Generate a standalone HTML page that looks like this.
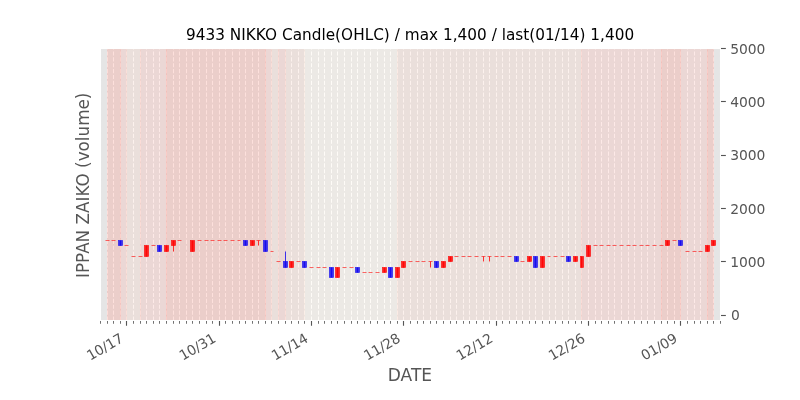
<!DOCTYPE html>
<html lang="en"><head><meta charset="utf-8"><title>9433 NIKKO Candle(OHLC)</title>
<style>
html,body{margin:0;padding:0;background:#fff;}
body{width:800px;height:400px;overflow:hidden;}
svg text{font-family:"DejaVu Sans","Liberation Sans",sans-serif;}
</style></head><body>
<svg width="800" height="400" viewBox="0 0 800 400" style="display:block">
<rect x="0" y="0" width="800" height="400" fill="#ffffff"/>
<rect x="100" y="48" width="620" height="272" fill="#e5e5e5"/>
<defs><clipPath id="ax"><rect x="100" y="48" width="620" height="272"/></clipPath></defs>
<g clip-path="url(#ax)">
<path d="M100.5 320.55V47M107.5 320.55V47M113.5 320.55V47M120.5 320.55V47M126.5 320.55V47M133.5 320.55V47M140.5 320.55V47M146.5 320.55V47M153.5 320.55V47M159.5 320.55V47M166.5 320.55V47M173.5 320.55V47M179.5 320.55V47M186.5 320.55V47M192.5 320.55V47M199.5 320.55V47M206.5 320.55V47M212.5 320.55V47M219.5 320.55V47M225.5 320.55V47M232.5 320.55V47M239.5 320.55V47M245.5 320.55V47M252.5 320.55V47M258.5 320.55V47M265.5 320.55V47M271.5 320.55V47M278.5 320.55V47M285.5 320.55V47M291.5 320.55V47M298.5 320.55V47M304.5 320.55V47M311.5 320.55V47M318.5 320.55V47M324.5 320.55V47M331.5 320.55V47M337.5 320.55V47M344.5 320.55V47M351.5 320.55V47M357.5 320.55V47M364.5 320.55V47M370.5 320.55V47M377.5 320.55V47M384.5 320.55V47M390.5 320.55V47M397.5 320.55V47M403.5 320.55V47M410.5 320.55V47M417.5 320.55V47M423.5 320.55V47M430.5 320.55V47M436.5 320.55V47M443.5 320.55V47M450.5 320.55V47M456.5 320.55V47M463.5 320.55V47M469.5 320.55V47M476.5 320.55V47M483.5 320.55V47M489.5 320.55V47M496.5 320.55V47M502.5 320.55V47M509.5 320.55V47M516.5 320.55V47M522.5 320.55V47M529.5 320.55V47M535.5 320.55V47M542.5 320.55V47M549.5 320.55V47M555.5 320.55V47M562.5 320.55V47M568.5 320.55V47M575.5 320.55V47M581.5 320.55V47M588.5 320.55V47M595.5 320.55V47M601.5 320.55V47M608.5 320.55V47M614.5 320.55V47M621.5 320.55V47M628.5 320.55V47M634.5 320.55V47M641.5 320.55V47M647.5 320.55V47M654.5 320.55V47M661.5 320.55V47M667.5 320.55V47M674.5 320.55V47M680.5 320.55V47M687.5 320.55V47M694.5 320.55V47M700.5 320.55V47M707.5 320.55V47M713.5 320.55V47M720.5 320.55V47" fill="none" stroke="#ffffff" stroke-width="1.11" stroke-dasharray="4.11 1.78"/>
<rect x="107.5" y="46" width="13" height="276" fill="#f9988b" fill-opacity="0.3" stroke="#f9988b" stroke-opacity="0.3" stroke-width="0.69"/>
<rect x="120.5" y="46" width="6" height="276" fill="#f9b6b0" fill-opacity="0.3" stroke="#f9b6b0" stroke-opacity="0.3" stroke-width="0.69"/>
<rect x="126.5" y="46" width="14" height="276" fill="#f6d1c4" fill-opacity="0.3" stroke="#f6d1c4" stroke-opacity="0.3" stroke-width="0.69"/>
<rect x="140.5" y="46" width="26" height="276" fill="#f9b6b0" fill-opacity="0.3" stroke="#f9b6b0" stroke-opacity="0.3" stroke-width="0.69"/>
<rect x="166.5" y="46" width="99" height="276" fill="#f9988b" fill-opacity="0.3" stroke="#f9988b" stroke-opacity="0.3" stroke-width="0.69"/>
<rect x="265.5" y="46" width="6" height="276" fill="#f9b6b0" fill-opacity="0.3" stroke="#f9b6b0" stroke-opacity="0.3" stroke-width="0.69"/>
<rect x="271.5" y="46" width="7" height="276" fill="#f6d1c4" fill-opacity="0.3" stroke="#f6d1c4" stroke-opacity="0.3" stroke-width="0.69"/>
<rect x="278.5" y="46" width="7" height="276" fill="#f9b6b0" fill-opacity="0.3" stroke="#f9b6b0" stroke-opacity="0.3" stroke-width="0.69"/>
<rect x="285.5" y="46" width="19" height="276" fill="#f6d1c4" fill-opacity="0.3" stroke="#f6d1c4" stroke-opacity="0.3" stroke-width="0.69"/>
<rect x="304.5" y="46" width="93" height="276" fill="#fcf2e5" fill-opacity="0.3" stroke="#fcf2e5" stroke-opacity="0.3" stroke-width="0.69"/>
<rect x="397.5" y="46" width="184" height="276" fill="#f6d1c4" fill-opacity="0.3" stroke="#f6d1c4" stroke-opacity="0.3" stroke-width="0.69"/>
<rect x="581.5" y="46" width="80" height="276" fill="#f9b6b0" fill-opacity="0.3" stroke="#f9b6b0" stroke-opacity="0.3" stroke-width="0.69"/>
<rect x="661.5" y="46" width="19" height="276" fill="#f9988b" fill-opacity="0.3" stroke="#f9988b" stroke-opacity="0.3" stroke-width="0.69"/>
<rect x="680.5" y="46" width="27" height="276" fill="#f9b6b0" fill-opacity="0.3" stroke="#f9b6b0" stroke-opacity="0.3" stroke-width="0.69"/>
<rect x="707.5" y="46" width="6" height="276" fill="#f9988b" fill-opacity="0.3" stroke="#f9988b" stroke-opacity="0.3" stroke-width="0.69"/>
<path d="M105.5 240.5H109.5" stroke="#ff0000" stroke-width="0.69" stroke-opacity="0.85" fill="none"/>
<path d="M111.5 240.5H115.5" stroke="#ff0000" stroke-width="0.69" stroke-opacity="0.85" fill="none"/>
<rect x="118.5" y="240.5" width="4" height="5" fill="#0c02f0" fill-opacity="0.8" stroke="#0c02f0" stroke-opacity="0.8" stroke-width="0.69"/>
<path d="M120.5 245.5V240.5" stroke="#0c02f0" stroke-width="0.8" fill="none"/>
<path d="M124.5 245.5H128.5" stroke="#ff0000" stroke-width="0.69" stroke-opacity="0.85" fill="none"/>
<path d="M131.5 256.5H135.5" stroke="#ff0000" stroke-width="0.69" stroke-opacity="0.85" fill="none"/>
<path d="M138.5 256.5H142.5" stroke="#ff0000" stroke-width="0.69" stroke-opacity="0.85" fill="none"/>
<rect x="144.5" y="245.5" width="4" height="11" fill="#ff0000" fill-opacity="0.85" stroke="#ff0000" stroke-opacity="0.85" stroke-width="0.69"/>
<path d="M146.5 256.5V245.5" stroke="#ff0000" stroke-width="0.8" fill="none"/>
<path d="M151.5 245.5H155.5" stroke="#ff0000" stroke-width="0.69" stroke-opacity="0.85" fill="none"/>
<rect x="157.5" y="245.5" width="4" height="6" fill="#0c02f0" fill-opacity="0.8" stroke="#0c02f0" stroke-opacity="0.8" stroke-width="0.69"/>
<path d="M159.5 251.5V245.5" stroke="#0c02f0" stroke-width="0.8" fill="none"/>
<rect x="164.5" y="245.5" width="4" height="6" fill="#ff0000" fill-opacity="0.85" stroke="#ff0000" stroke-opacity="0.85" stroke-width="0.69"/>
<path d="M166.5 251.5V245.5" stroke="#ff0000" stroke-width="0.8" fill="none"/>
<rect x="171.5" y="240.5" width="4" height="5" fill="#ff0000" fill-opacity="0.85" stroke="#ff0000" stroke-opacity="0.85" stroke-width="0.69"/>
<path d="M173.5 251.5V240.5" stroke="#ff0000" stroke-width="0.8" fill="none"/>
<path d="M177.5 240.5H181.5" stroke="#ff0000" stroke-width="0.69" stroke-opacity="0.85" fill="none"/>
<rect x="190.5" y="240.5" width="4" height="11" fill="#ff0000" fill-opacity="0.85" stroke="#ff0000" stroke-opacity="0.85" stroke-width="0.69"/>
<path d="M192.5 251.5V240.5" stroke="#ff0000" stroke-width="0.8" fill="none"/>
<path d="M197.5 240.5H201.5" stroke="#ff0000" stroke-width="0.69" stroke-opacity="0.85" fill="none"/>
<path d="M204.5 240.5H208.5" stroke="#ff0000" stroke-width="0.69" stroke-opacity="0.85" fill="none"/>
<path d="M210.5 240.5H214.5" stroke="#ff0000" stroke-width="0.69" stroke-opacity="0.85" fill="none"/>
<path d="M217.5 240.5H221.5" stroke="#ff0000" stroke-width="0.69" stroke-opacity="0.85" fill="none"/>
<path d="M223.5 240.5H227.5" stroke="#ff0000" stroke-width="0.69" stroke-opacity="0.85" fill="none"/>
<path d="M230.5 240.5H234.5" stroke="#ff0000" stroke-width="0.69" stroke-opacity="0.85" fill="none"/>
<path d="M237.5 240.5H240.5" stroke="#ff0000" stroke-width="0.69" stroke-opacity="0.85" fill="none"/>
<rect x="243.5" y="240.5" width="4" height="5" fill="#0c02f0" fill-opacity="0.8" stroke="#0c02f0" stroke-opacity="0.8" stroke-width="0.69"/>
<path d="M245.5 245.5V240.5" stroke="#0c02f0" stroke-width="0.8" fill="none"/>
<rect x="250.5" y="240.5" width="4" height="5" fill="#ff0000" fill-opacity="0.85" stroke="#ff0000" stroke-opacity="0.85" stroke-width="0.69"/>
<path d="M252.5 245.5V240.5" stroke="#ff0000" stroke-width="0.8" fill="none"/>
<path d="M256.5 240.5H260.5" stroke="#ff0000" stroke-width="0.69" stroke-opacity="0.85" fill="none"/>
<path d="M258.5 245.5V240.5" stroke="#ff0000" stroke-width="0.8" fill="none"/>
<rect x="263.5" y="240.5" width="4" height="11" fill="#0c02f0" fill-opacity="0.8" stroke="#0c02f0" stroke-opacity="0.8" stroke-width="0.69"/>
<path d="M265.5 251.5V240.5" stroke="#0c02f0" stroke-width="0.8" fill="none"/>
<path d="M270.5 251.5H273.5" stroke="#ff0000" stroke-width="0.69" stroke-opacity="0.85" fill="none"/>
<path d="M276.5 261.5H280.5" stroke="#ff0000" stroke-width="0.69" stroke-opacity="0.85" fill="none"/>
<rect x="283.5" y="261.5" width="4" height="6" fill="#0c02f0" fill-opacity="0.8" stroke="#0c02f0" stroke-opacity="0.8" stroke-width="0.69"/>
<path d="M285.5 267.5V251.5" stroke="#0c02f0" stroke-width="0.8" fill="none"/>
<rect x="289.5" y="261.5" width="4" height="6" fill="#ff0000" fill-opacity="0.85" stroke="#ff0000" stroke-opacity="0.85" stroke-width="0.69"/>
<path d="M291.5 267.5V261.5" stroke="#ff0000" stroke-width="0.8" fill="none"/>
<path d="M296.5 261.5H300.5" stroke="#ff0000" stroke-width="0.69" stroke-opacity="0.85" fill="none"/>
<rect x="302.5" y="261.5" width="4" height="6" fill="#0c02f0" fill-opacity="0.8" stroke="#0c02f0" stroke-opacity="0.8" stroke-width="0.69"/>
<path d="M304.5 267.5V261.5" stroke="#0c02f0" stroke-width="0.8" fill="none"/>
<path d="M309.5 267.5H313.5" stroke="#ff0000" stroke-width="0.69" stroke-opacity="0.85" fill="none"/>
<path d="M316.5 267.5H320.5" stroke="#ff0000" stroke-width="0.69" stroke-opacity="0.85" fill="none"/>
<path d="M322.5 267.5H326.5" stroke="#ff0000" stroke-width="0.69" stroke-opacity="0.85" fill="none"/>
<rect x="329.5" y="267.5" width="4" height="10" fill="#0c02f0" fill-opacity="0.8" stroke="#0c02f0" stroke-opacity="0.8" stroke-width="0.69"/>
<path d="M331.5 277.5V267.5" stroke="#0c02f0" stroke-width="0.8" fill="none"/>
<rect x="335.5" y="267.5" width="4" height="10" fill="#ff0000" fill-opacity="0.85" stroke="#ff0000" stroke-opacity="0.85" stroke-width="0.69"/>
<path d="M337.5 277.5V267.5" stroke="#ff0000" stroke-width="0.8" fill="none"/>
<path d="M342.5 267.5H346.5" stroke="#ff0000" stroke-width="0.69" stroke-opacity="0.85" fill="none"/>
<path d="M349.5 267.5H353.5" stroke="#ff0000" stroke-width="0.69" stroke-opacity="0.85" fill="none"/>
<rect x="355.5" y="267.5" width="4" height="5" fill="#0c02f0" fill-opacity="0.8" stroke="#0c02f0" stroke-opacity="0.8" stroke-width="0.69"/>
<path d="M357.5 272.5V267.5" stroke="#0c02f0" stroke-width="0.8" fill="none"/>
<path d="M362.5 272.5H366.5" stroke="#ff0000" stroke-width="0.69" stroke-opacity="0.85" fill="none"/>
<path d="M368.5 272.5H372.5" stroke="#ff0000" stroke-width="0.69" stroke-opacity="0.85" fill="none"/>
<path d="M375.5 272.5H379.5" stroke="#ff0000" stroke-width="0.69" stroke-opacity="0.85" fill="none"/>
<rect x="382.5" y="267.5" width="4" height="5" fill="#ff0000" fill-opacity="0.85" stroke="#ff0000" stroke-opacity="0.85" stroke-width="0.69"/>
<path d="M384.5 272.5V267.5" stroke="#ff0000" stroke-width="0.8" fill="none"/>
<rect x="388.5" y="267.5" width="4" height="10" fill="#0c02f0" fill-opacity="0.8" stroke="#0c02f0" stroke-opacity="0.8" stroke-width="0.69"/>
<path d="M390.5 277.5V267.5" stroke="#0c02f0" stroke-width="0.8" fill="none"/>
<rect x="395.5" y="267.5" width="4" height="10" fill="#ff0000" fill-opacity="0.85" stroke="#ff0000" stroke-opacity="0.85" stroke-width="0.69"/>
<path d="M397.5 277.5V267.5" stroke="#ff0000" stroke-width="0.8" fill="none"/>
<rect x="401.5" y="261.5" width="4" height="6" fill="#ff0000" fill-opacity="0.85" stroke="#ff0000" stroke-opacity="0.85" stroke-width="0.69"/>
<path d="M403.5 267.5V261.5" stroke="#ff0000" stroke-width="0.8" fill="none"/>
<path d="M408.5 261.5H412.5" stroke="#ff0000" stroke-width="0.69" stroke-opacity="0.85" fill="none"/>
<path d="M415.5 261.5H419.5" stroke="#ff0000" stroke-width="0.69" stroke-opacity="0.85" fill="none"/>
<path d="M421.5 261.5H425.5" stroke="#ff0000" stroke-width="0.69" stroke-opacity="0.85" fill="none"/>
<path d="M428.5 261.5H432.5" stroke="#ff0000" stroke-width="0.69" stroke-opacity="0.85" fill="none"/>
<path d="M430.5 267.5V261.5" stroke="#ff0000" stroke-width="0.8" fill="none"/>
<rect x="434.5" y="261.5" width="4" height="6" fill="#0c02f0" fill-opacity="0.8" stroke="#0c02f0" stroke-opacity="0.8" stroke-width="0.69"/>
<path d="M436.5 267.5V261.5" stroke="#0c02f0" stroke-width="0.8" fill="none"/>
<rect x="441.5" y="261.5" width="4" height="6" fill="#ff0000" fill-opacity="0.85" stroke="#ff0000" stroke-opacity="0.85" stroke-width="0.69"/>
<path d="M443.5 267.5V261.5" stroke="#ff0000" stroke-width="0.8" fill="none"/>
<rect x="448.5" y="256.5" width="4" height="5" fill="#ff0000" fill-opacity="0.85" stroke="#ff0000" stroke-opacity="0.85" stroke-width="0.69"/>
<path d="M450.5 261.5V256.5" stroke="#ff0000" stroke-width="0.8" fill="none"/>
<path d="M454.5 256.5H458.5" stroke="#ff0000" stroke-width="0.69" stroke-opacity="0.85" fill="none"/>
<path d="M461.5 256.5H465.5" stroke="#ff0000" stroke-width="0.69" stroke-opacity="0.85" fill="none"/>
<path d="M467.5 256.5H471.5" stroke="#ff0000" stroke-width="0.69" stroke-opacity="0.85" fill="none"/>
<path d="M474.5 256.5H478.5" stroke="#ff0000" stroke-width="0.69" stroke-opacity="0.85" fill="none"/>
<path d="M481.5 256.5H485.5" stroke="#ff0000" stroke-width="0.69" stroke-opacity="0.85" fill="none"/>
<path d="M483.5 261.5V256.5" stroke="#ff0000" stroke-width="0.8" fill="none"/>
<path d="M487.5 256.5H491.5" stroke="#ff0000" stroke-width="0.69" stroke-opacity="0.85" fill="none"/>
<path d="M489.5 261.5V256.5" stroke="#ff0000" stroke-width="0.8" fill="none"/>
<path d="M494.5 256.5H498.5" stroke="#ff0000" stroke-width="0.69" stroke-opacity="0.85" fill="none"/>
<path d="M500.5 256.5H504.5" stroke="#ff0000" stroke-width="0.69" stroke-opacity="0.85" fill="none"/>
<path d="M507.5 256.5H511.5" stroke="#ff0000" stroke-width="0.69" stroke-opacity="0.85" fill="none"/>
<rect x="514.5" y="256.5" width="4" height="5" fill="#0c02f0" fill-opacity="0.8" stroke="#0c02f0" stroke-opacity="0.8" stroke-width="0.69"/>
<path d="M516.5 261.5V256.5" stroke="#0c02f0" stroke-width="0.8" fill="none"/>
<path d="M520.5 261.5H524.5" stroke="#ff0000" stroke-width="0.69" stroke-opacity="0.85" fill="none"/>
<rect x="527.5" y="256.5" width="4" height="5" fill="#ff0000" fill-opacity="0.85" stroke="#ff0000" stroke-opacity="0.85" stroke-width="0.69"/>
<path d="M529.5 261.5V256.5" stroke="#ff0000" stroke-width="0.8" fill="none"/>
<rect x="533.5" y="256.5" width="4" height="11" fill="#0c02f0" fill-opacity="0.8" stroke="#0c02f0" stroke-opacity="0.8" stroke-width="0.69"/>
<path d="M535.5 267.5V256.5" stroke="#0c02f0" stroke-width="0.8" fill="none"/>
<rect x="540.5" y="256.5" width="4" height="11" fill="#ff0000" fill-opacity="0.85" stroke="#ff0000" stroke-opacity="0.85" stroke-width="0.69"/>
<path d="M542.5 267.5V256.5" stroke="#ff0000" stroke-width="0.8" fill="none"/>
<path d="M547.5 256.5H550.5" stroke="#ff0000" stroke-width="0.69" stroke-opacity="0.85" fill="none"/>
<path d="M553.5 256.5H557.5" stroke="#ff0000" stroke-width="0.69" stroke-opacity="0.85" fill="none"/>
<path d="M560.5 256.5H564.5" stroke="#ff0000" stroke-width="0.69" stroke-opacity="0.85" fill="none"/>
<rect x="566.5" y="256.5" width="4" height="5" fill="#0c02f0" fill-opacity="0.8" stroke="#0c02f0" stroke-opacity="0.8" stroke-width="0.69"/>
<path d="M568.5 261.5V256.5" stroke="#0c02f0" stroke-width="0.8" fill="none"/>
<rect x="573.5" y="256.5" width="4" height="5" fill="#ff0000" fill-opacity="0.85" stroke="#ff0000" stroke-opacity="0.85" stroke-width="0.69"/>
<path d="M575.5 261.5V256.5" stroke="#ff0000" stroke-width="0.8" fill="none"/>
<rect x="580.5" y="256.5" width="3" height="11" fill="#ff0000" fill-opacity="0.85" stroke="#ff0000" stroke-opacity="0.85" stroke-width="0.69"/>
<path d="M581.5 267.5V256.5" stroke="#ff0000" stroke-width="0.8" fill="none"/>
<rect x="586.5" y="245.5" width="4" height="11" fill="#ff0000" fill-opacity="0.85" stroke="#ff0000" stroke-opacity="0.85" stroke-width="0.69"/>
<path d="M588.5 256.5V245.5" stroke="#ff0000" stroke-width="0.8" fill="none"/>
<path d="M593.5 245.5H597.5" stroke="#ff0000" stroke-width="0.69" stroke-opacity="0.85" fill="none"/>
<path d="M599.5 245.5H603.5" stroke="#ff0000" stroke-width="0.69" stroke-opacity="0.85" fill="none"/>
<path d="M606.5 245.5H610.5" stroke="#ff0000" stroke-width="0.69" stroke-opacity="0.85" fill="none"/>
<path d="M612.5 245.5H616.5" stroke="#ff0000" stroke-width="0.69" stroke-opacity="0.85" fill="none"/>
<path d="M619.5 245.5H623.5" stroke="#ff0000" stroke-width="0.69" stroke-opacity="0.85" fill="none"/>
<path d="M626.5 245.5H630.5" stroke="#ff0000" stroke-width="0.69" stroke-opacity="0.85" fill="none"/>
<path d="M632.5 245.5H636.5" stroke="#ff0000" stroke-width="0.69" stroke-opacity="0.85" fill="none"/>
<path d="M639.5 245.5H643.5" stroke="#ff0000" stroke-width="0.69" stroke-opacity="0.85" fill="none"/>
<path d="M645.5 245.5H649.5" stroke="#ff0000" stroke-width="0.69" stroke-opacity="0.85" fill="none"/>
<path d="M652.5 245.5H656.5" stroke="#ff0000" stroke-width="0.69" stroke-opacity="0.85" fill="none"/>
<path d="M659.5 245.5H663.5" stroke="#ff0000" stroke-width="0.69" stroke-opacity="0.85" fill="none"/>
<rect x="665.5" y="240.5" width="4" height="5" fill="#ff0000" fill-opacity="0.85" stroke="#ff0000" stroke-opacity="0.85" stroke-width="0.69"/>
<path d="M667.5 245.5V240.5" stroke="#ff0000" stroke-width="0.8" fill="none"/>
<path d="M672.5 240.5H676.5" stroke="#ff0000" stroke-width="0.69" stroke-opacity="0.85" fill="none"/>
<rect x="678.5" y="240.5" width="4" height="5" fill="#0c02f0" fill-opacity="0.8" stroke="#0c02f0" stroke-opacity="0.8" stroke-width="0.69"/>
<path d="M680.5 245.5V240.5" stroke="#0c02f0" stroke-width="0.8" fill="none"/>
<path d="M685.5 251.5H689.5" stroke="#ff0000" stroke-width="0.69" stroke-opacity="0.85" fill="none"/>
<path d="M692.5 251.5H696.5" stroke="#ff0000" stroke-width="0.69" stroke-opacity="0.85" fill="none"/>
<path d="M698.5 251.5H702.5" stroke="#ff0000" stroke-width="0.69" stroke-opacity="0.85" fill="none"/>
<rect x="705.5" y="245.5" width="4" height="6" fill="#ff0000" fill-opacity="0.85" stroke="#ff0000" stroke-opacity="0.85" stroke-width="0.69"/>
<path d="M707.5 251.5V245.5" stroke="#ff0000" stroke-width="0.8" fill="none"/>
<rect x="711.5" y="240.5" width="4" height="5" fill="#ff0000" fill-opacity="0.85" stroke="#ff0000" stroke-opacity="0.85" stroke-width="0.69"/>
<path d="M713.5 245.5V240.5" stroke="#ff0000" stroke-width="0.8" fill="none"/>
</g>
<path d="M100.5 48.5H720.5V320.5H100.5Z" fill="none" stroke="#ffffff" stroke-width="1"/>
<path d="M100.5 321v2.78M107.5 321v2.78M113.5 321v2.78M120.5 321v2.78M133.5 321v2.78M140.5 321v2.78M146.5 321v2.78M153.5 321v2.78M159.5 321v2.78M166.5 321v2.78M173.5 321v2.78M179.5 321v2.78M186.5 321v2.78M192.5 321v2.78M199.5 321v2.78M206.5 321v2.78M212.5 321v2.78M225.5 321v2.78M232.5 321v2.78M239.5 321v2.78M245.5 321v2.78M252.5 321v2.78M258.5 321v2.78M265.5 321v2.78M271.5 321v2.78M278.5 321v2.78M285.5 321v2.78M291.5 321v2.78M298.5 321v2.78M304.5 321v2.78M318.5 321v2.78M324.5 321v2.78M331.5 321v2.78M337.5 321v2.78M344.5 321v2.78M351.5 321v2.78M357.5 321v2.78M364.5 321v2.78M370.5 321v2.78M377.5 321v2.78M384.5 321v2.78M390.5 321v2.78M397.5 321v2.78M410.5 321v2.78M417.5 321v2.78M423.5 321v2.78M430.5 321v2.78M436.5 321v2.78M443.5 321v2.78M450.5 321v2.78M456.5 321v2.78M463.5 321v2.78M469.5 321v2.78M476.5 321v2.78M483.5 321v2.78M489.5 321v2.78M502.5 321v2.78M509.5 321v2.78M516.5 321v2.78M522.5 321v2.78M529.5 321v2.78M535.5 321v2.78M542.5 321v2.78M549.5 321v2.78M555.5 321v2.78M562.5 321v2.78M568.5 321v2.78M575.5 321v2.78M581.5 321v2.78M595.5 321v2.78M601.5 321v2.78M608.5 321v2.78M614.5 321v2.78M621.5 321v2.78M628.5 321v2.78M634.5 321v2.78M641.5 321v2.78M647.5 321v2.78M654.5 321v2.78M661.5 321v2.78M667.5 321v2.78M674.5 321v2.78M687.5 321v2.78M694.5 321v2.78M700.5 321v2.78M707.5 321v2.78M713.5 321v2.78M720.5 321v2.78" stroke="#555555" stroke-width="0.83" fill="none"/>
<path d="M126.5 321v4.86M219.5 321v4.86M311.5 321v4.86M403.5 321v4.86M496.5 321v4.86M588.5 321v4.86M680.5 321v4.86" stroke="#555555" stroke-width="1.11" fill="none"/>
<path d="M721 315.5h4.86" stroke="#555555" stroke-width="1.11" fill="none"/>
<text x="730.9" y="320" font-size="13.89" fill="#555555">0</text>
<path d="M721 261.5h4.86" stroke="#555555" stroke-width="1.11" fill="none"/>
<text x="730.3" y="267" font-size="13.89" fill="#555555" textLength="35">1000</text>
<path d="M721 208.5h4.86" stroke="#555555" stroke-width="1.11" fill="none"/>
<text x="730.3" y="214" font-size="13.89" fill="#555555" textLength="35">2000</text>
<path d="M721 155.5h4.86" stroke="#555555" stroke-width="1.11" fill="none"/>
<text x="730.3" y="160" font-size="13.89" fill="#555555" textLength="35">3000</text>
<path d="M721 101.5h4.86" stroke="#555555" stroke-width="1.11" fill="none"/>
<text x="730.3" y="107" font-size="13.89" fill="#555555" textLength="35">4000</text>
<path d="M721 48.5h4.86" stroke="#555555" stroke-width="1.11" fill="none"/>
<text x="730.3" y="54" font-size="13.89" fill="#555555" textLength="35">5000</text>
<text x="124.48" y="341.15" font-size="13.89" fill="#555555" text-anchor="end" textLength="39.4" transform="rotate(-30 124.48 341.15)">10/17</text>
<text x="216.82" y="341.15" font-size="13.89" fill="#555555" text-anchor="end" textLength="39.4" transform="rotate(-30 216.82 341.15)">10/31</text>
<text x="309.16" y="341.15" font-size="13.89" fill="#555555" text-anchor="end" textLength="39.4" transform="rotate(-30 309.16 341.15)">11/14</text>
<text x="401.5" y="341.15" font-size="13.89" fill="#555555" text-anchor="end" textLength="39.4" transform="rotate(-30 401.5 341.15)">11/28</text>
<text x="493.84" y="341.15" font-size="13.89" fill="#555555" text-anchor="end" textLength="39.4" transform="rotate(-30 493.84 341.15)">12/12</text>
<text x="586.19" y="341.15" font-size="13.89" fill="#555555" text-anchor="end" textLength="39.4" transform="rotate(-30 586.19 341.15)">12/26</text>
<text x="678.53" y="341.15" font-size="13.89" fill="#555555" text-anchor="end" textLength="39.4" transform="rotate(-30 678.53 341.15)">01/09</text>
<text x="0" y="0" font-size="16.67" fill="#555555" text-anchor="middle" transform="translate(409.9 380.6) scale(1.022 1.07)">DATE</text>
<text x="0" y="0" font-size="16.67" fill="#555555" text-anchor="middle" transform="translate(89 185.3) rotate(-90) scale(1.008 1.07)">IPPAN ZAIKO (volume)</text>
<text x="410.05" y="39.7" font-size="15.28" fill="#000000" text-anchor="middle" textLength="448.1">9433 NIKKO Candle(OHLC) / max 1,400 / last(01/14) 1,400</text>
</svg>
</body></html>
